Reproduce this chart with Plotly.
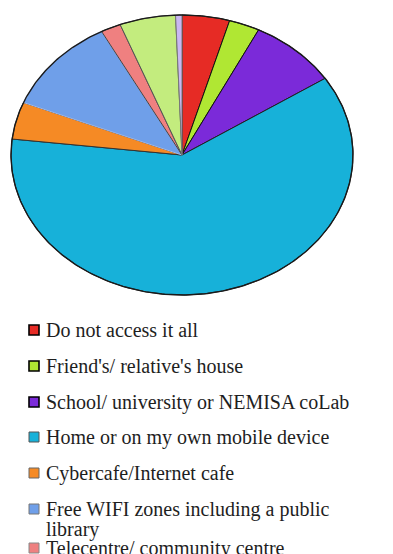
import numpy as np
import plotly.graph_objects as go

# Where respondents access the internet (share of responses, %)
categories = [
    "Do not access it all",
    "Friend's/ relative's house",
    "School/ university or NEMISA coLab",
    "Home or on my own mobile device",
    "Cybercafe/Internet cafe",
    "Free WIFI zones including a public<br>library",
    "Telecentre/ community centre",
    "Other",
    "No answer",
]
shares = [4.5, 2.9, 8.4, 61.1, 4.3, 11.1, 1.9, 5.3, 0.6]
colors = [
    "#e62b25", "#b0e733", "#7b2ad9", "#17b1d9", "#f58a25",
    "#6f9fe9", "#ef8080", "#c3ec7e", "#c9b7f2",
]
outline = ["#111", "#111", "#111", "#222", "#333", "#9fb8e8", "#444", "#555", "#777"]

W, H = 393, 554
cx, cy, rx, ry = 182, 155, 171, 140

fig = go.Figure()

total = sum(shares)
start = 0.0
for name, val, col, oc in zip(categories, shares, colors, outline):
    a0 = start / total * 2 * np.pi
    a1 = (start + val) / total * 2 * np.pi
    start += val
    t = np.linspace(a0, a1, max(8, int((a1 - a0) * 120)))
    xs = np.concatenate([[cx], cx + rx * np.sin(t), [cx]])
    ys = np.concatenate([[cy], cy - ry * np.cos(t), [cy]])
    fig.add_trace(go.Scatter(
        x=xs, y=ys, mode="lines", fill="toself", fillcolor=col,
        line=dict(color=oc, width=1), name=name.replace("<br>", " "),
        hoverinfo="name", showlegend=False,
    ))

# outer rim of the pie
t = np.linspace(0, 2 * np.pi, 400)
fig.add_trace(go.Scatter(
    x=cx + rx * np.sin(t), y=cy - ry * np.cos(t), mode="lines",
    line=dict(color="#1a1a1a", width=1.4), hoverinfo="skip", showlegend=False,
))

# legend drawn as squares plus labels
row_y = [330, 366, 402, 437, 473, 509, 548]
box_line = ["#000", "#000", "#000", "#555", "#666", "#777", "#888"]
font = dict(family="'Liberation Serif', 'Times New Roman', serif", size=20, color="#1e1e1e")
for i, y in enumerate(row_y):
    fig.add_shape(type="rect", xref="x", yref="y",
                  x0=29, x1=39, y0=y - 5, y1=y + 5,
                  fillcolor=colors[i], line=dict(color=box_line[i], width=1.6 if i < 3 else 1))
    lines = categories[i].split("<br>")
    for j, txt in enumerate(lines):
        fig.add_annotation(x=44, y=y + j * 20.5, xref="x", yref="y", text=txt,
                           showarrow=False, xanchor="left", yanchor="middle", font=font)

fig.update_layout(
    width=W, height=H,
    margin=dict(l=0, r=0, t=0, b=0),
    paper_bgcolor="white", plot_bgcolor="white",
    xaxis=dict(range=[0, W], visible=False, fixedrange=True),
    yaxis=dict(range=[H, 0], visible=False, fixedrange=True),
)

fig.write_html("out.html")
